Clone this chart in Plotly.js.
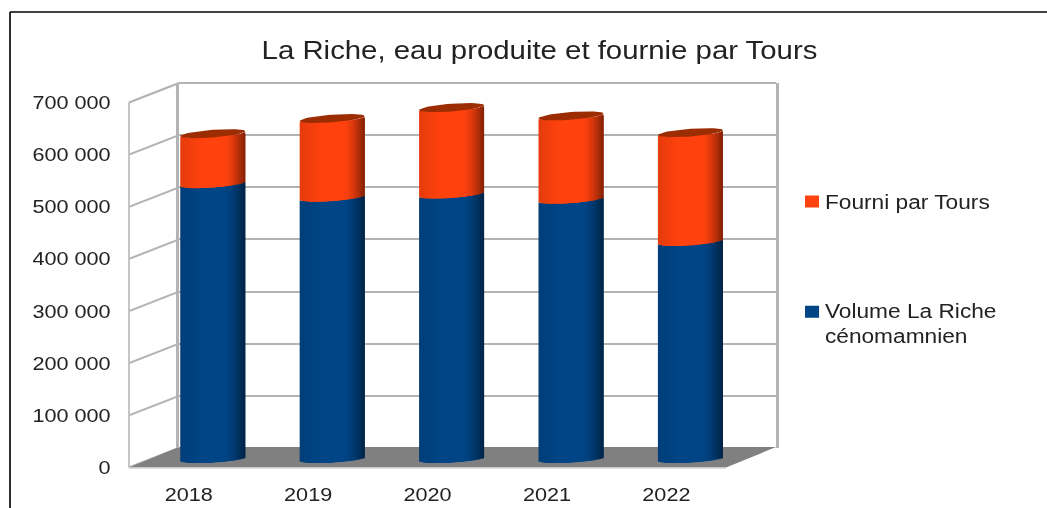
<!DOCTYPE html>
<html>
<head>
<meta charset="utf-8">
<script src="https://cdn.plot.ly/plotly-3.0.1.min.js"></script>
<style>
html,body{margin:0;padding:0;background:#fff;overflow:hidden}
#chart{transform-origin:0 0;transform:scaleX(1.17);filter:blur(0.45px)}
</style>
</head>
<body>
<div id="chart"></div>
<script>
var years = [2018, 2019, 2020, 2021, 2022];
var volumeLaRiche = [527000, 501000, 507000, 497000, 416000];
var fourniParTours = [96000, 151000, 166000, 160000, 209000];
var yTicks = [0, 100000, 200000, 300000, 400000, 500000, 600000, 700000];
var titleText = 'La Riche, eau produite et fournie par Tours';
var nameFourni = 'Fourni par Tours';
var nameVolume = 'Volume La Riche<br>cénomamnien';

var W = 1047, H = 508, STRETCH = 1.17;
var FRONT = {x0:129, x1:726, y0:467.5, y1:102.5};
var BACK  = {x0:179, x1:776, y0:448, y1:83};
var GREY = '#b3b3b3', TXT = '#222222', FONT = '"Liberation Sans", Arial, sans-serif';
var BAR_W = 0.544, STRIPS = 32;
var unitsPerPx = 700000 / (FRONT.y0 - FRONT.y1);
var BELOW = 20000;
var MID   = {x0:153, x1:750, y0:458.5 + BELOW / unitsPerPx, y1:93.5};
var TILT = 2.4 * unitsPerPx, MINOR = 3.8 * unitsPerPx;

function px(x){return x / W;}
function py(y){return 1 - y / H;}
function xdom(g){return [px(g.x0), px(g.x1)];}
function ydom(g){return [py(g.y0), py(g.y1)];}
var xRange = [years[0] - 0.5, years[years.length - 1] + 0.5];
var yRange = [0, 700000];

function shade(rgb, u){
  var f = u < -0.3 ? 1 - 0.10 * (-0.3 - u) / 0.7
        : u < 0.35 ? 1
        : 1 - 0.5 * Math.pow((u - 0.35) / 0.65, 1.5);
  return 'rgb(' + rgb.map(function(c){return Math.round(c * f);}).join(',') + ')';
}
function frontOffset(u){return TILT * u - MINOR * Math.sqrt(Math.max(0, 1 - u * u));}

var traces = [];
traces.push({type:'scatter', x:[years[0]], y:[0], xaxis:'x', yaxis:'y', mode:'markers',
  marker:{opacity:0}, showlegend:false, hoverinfo:'skip'});

var totals = years.map(function(_, i){return volumeLaRiche[i] + fourniParTours[i];});

traces.push({type:'bar', x:years, y:volumeLaRiche, base:0, width:0.3, name:nameVolume,
  marker:{color:'#004586'}, xaxis:'x2', yaxis:'y2', legend:'legend2'});
traces.push({type:'bar', x:years, y:fourniParTours, base:volumeLaRiche, width:0.3, name:nameFourni,
  marker:{color:'#ff420e'}, xaxis:'x2', yaxis:'y2', legend:'legend'});

// cylinder strips, painted left to right, each overlapping the next
for (var s = 0; s < STRIPS; s++) {
  var u0 = -1 + 2 * s / STRIPS, u1 = -1 + 2 * (s + 1) / STRIPS, u = (u0 + u1) / 2;
  var off = frontOffset(u);
  var overlap = Math.min(3, STRIPS - s);
  var w = BAR_W * (u1 - u0) / 2 * overlap;
  var pos = BAR_W / 2 * u0;
  traces.push({type:'bar', x:years, y:volumeLaRiche, base:years.map(function(){return off;}),
    offset:pos, width:w, marker:{color:shade([0,69,134], u), line:{width:0}},
    xaxis:'x2', yaxis:'y2', showlegend:false, hoverinfo:'skip'});
  traces.push({type:'bar', x:years, y:fourniParTours,
    base:volumeLaRiche.map(function(v){return v + off;}),
    offset:pos, width:w, marker:{color:shade([255,66,14], u), line:{width:0}},
    xaxis:'x2', yaxis:'y2', showlegend:false, hoverinfo:'skip'});
}

var ex = [], ey = [];
years.forEach(function(yr, i){
  for (var a = 0; a <= 48; a++) {
    var t = a / 48 * 2 * Math.PI, c = Math.cos(t);
    ex.push(yr + BAR_W / 2 * c);
    ey.push(totals[i] + TILT * c + MINOR * Math.sin(t));
  }
  ex.push(null); ey.push(null);
});
traces.push({type:'scatter', x:ex, y:ey, mode:'lines', fill:'toself', fillcolor:'#9c2c02',
  line:{width:0, color:'#9c2c02'}, xaxis:'x2', yaxis:'y2', showlegend:false,
  hoverinfo:'skip', cliponaxis:false});

traces.push({type:'scatter', x:[years[0]], y:[0], xaxis:'x3', yaxis:'y3', mode:'markers',
  marker:{opacity:0}, showlegend:false, hoverinfo:'skip'});

var shapes = [];
function seg(x0, y0, x1, y1, color, width){
  shapes.push({type:'line', xref:'paper', yref:'paper', layer:'below',
    x0:px(x0), y0:py(y0), x1:px(x1), y1:py(y1), line:{color:color, width:width}});
}
yTicks.forEach(function(v){
  var f = v / 700000;
  seg(FRONT.x0, FRONT.y0 + (FRONT.y1 - FRONT.y0) * f, BACK.x0, BACK.y0 + (BACK.y1 - BACK.y0) * f, GREY, 2);
});
seg(FRONT.x0, FRONT.y0, FRONT.x0, FRONT.y1, '#bdbdbd', 1.5);
seg(BACK.x0, BACK.y1, BACK.x1, BACK.y1, GREY, 2);
var floorPts = [[FRONT.x0, FRONT.y0], [FRONT.x1, FRONT.y0], [BACK.x1, BACK.y0 - 1], [BACK.x0, BACK.y0 - 1]];
shapes.push({type:'path', xref:'paper', yref:'paper', layer:'below', fillcolor:'#808080', line:{width:0},
  path: floorPts.map(function(p, i){return (i ? 'L ' : 'M ') + px(p[0]) + ' ' + py(p[1]);}).join(' ') + ' Z'});
seg(FRONT.x0, FRONT.y0 + 0.5, FRONT.x1, FRONT.y0 + 0.5, '#d0d0d0', 1.5);
seg(10, 12, W + 5, 12, '#000000', 1.6);
seg(10, 12, 10, H + 5, '#000000', 1.4);

var hiddenX = {range:xRange, showticklabels:false, showgrid:false, zeroline:false, ticks:'', fixedrange:true};
var hiddenY = {showticklabels:false, showgrid:false, zeroline:false, ticks:'', fixedrange:true};

var layout = {
  width: W / STRETCH, height: H,
  margin: {l:0, r:0, t:0, b:0, pad:0},
  paper_bgcolor: '#ffffff', plot_bgcolor: 'rgba(0,0,0,0)',
  barmode: 'overlay', separators: ', ',
  font: {family: FONT, color: TXT, size: 18.5},
  title: {text: titleText, font: {family: FONT, size: 25.1, color: TXT},
    x: 539.5 / W, xanchor: 'center', y: py(50), yanchor: 'middle'},
  showlegend: true,
  legend: {x: px(778), y: py(202), xanchor: 'left', yanchor: 'middle', bgcolor: 'rgba(0,0,0,0)',
    font: {family: FONT, size: 19.4, color: TXT}, itemwidth: 30, borderwidth: 0},
  legend2: {x: px(778), y: py(323), xanchor: 'left', yanchor: 'middle', bgcolor: 'rgba(0,0,0,0)',
    font: {family: FONT, size: 19.4, color: TXT}, itemwidth: 30, borderwidth: 0},
  shapes: shapes,
  xaxis: Object.assign({}, hiddenX, {domain: xdom(BACK), anchor: 'y'}),
  yaxis: Object.assign({}, hiddenY, {range: yRange, domain: ydom(BACK), anchor: 'x', showgrid: true, gridcolor: GREY,
    gridwidth: 2, tickvals: yTicks.slice(1), showline: true, mirror: true, linecolor: GREY, linewidth: 2.4}),
  xaxis2: Object.assign({}, hiddenX, {domain: xdom(MID), anchor: 'y2'}),
  yaxis2: Object.assign({}, hiddenY, {range: [-BELOW, 700000], domain: ydom(MID), anchor: 'x2'}),
  xaxis3: {domain: xdom(FRONT), anchor: 'y3', range: xRange, tickvals: years,
    ticktext: years.map(String), showgrid: false, zeroline: false, showline: false,
    ticks: 'outside', ticklen: 10, tickcolor: 'rgba(0,0,0,0)',
    tickfont: {family: FONT, size: 18.5, color: TXT}, fixedrange: true},
  yaxis3: {domain: ydom(FRONT), anchor: 'x3', range: yRange, tickvals: yTicks, tickformat: ',d',
    showgrid: false, zeroline: false, showline: false,
    ticks: 'outside', ticklen: 11, tickcolor: 'rgba(0,0,0,0)',
    tickfont: {family: FONT, size: 18.5, color: TXT}, fixedrange: true}
};
Plotly.newPlot('chart', traces, layout, {displayModeBar: false, staticPlot: true}).then(function(){
  // tighten the gap between each legend swatch and its label; the multi-line
  // entry keeps its swatch on the first line
  document.querySelectorAll('#chart .legend .legendsymbols').forEach(function(sym){
    sym.setAttribute('transform', 'translate(9,0)');
  });
  document.querySelectorAll('#chart .legend2 .legendsymbols').forEach(function(sym){
    sym.setAttribute('transform', 'translate(9,-11)');
  });
});
</script>
</body>
</html>
